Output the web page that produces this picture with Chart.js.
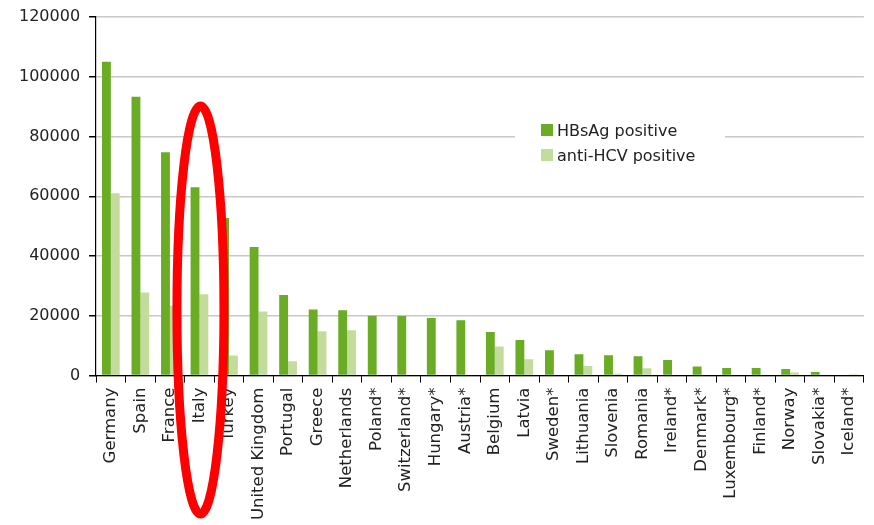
<!DOCTYPE html>
<html>
<head>
<meta charset="utf-8">
<script src="https://cdn.jsdelivr.net/npm/chart.js@4.4.1/dist/chart.umd.min.js"></script>
<style>
  html, body { margin: 0; padding: 0; background: #fff; }
  #wrap { width: 874px; height: 525px; }
</style>
</head>
<body>
<div id="wrap"><canvas id="chart-bars"></canvas></div>
<script>
var countries = ["Germany", "Spain", "France", "Italy", "Turkey", "United Kingdom", "Portugal",
  "Greece", "Netherlands", "Poland*", "Switzerland*", "Hungary*", "Austria*", "Belgium", "Latvia",
  "Sweden*", "Lithuania", "Slovenia", "Romania", "Ireland*", "Denmark*", "Luxembourg*", "Finland*",
  "Norway", "Slovakia*", "Iceland*"];
var hbsag = [105000, 93300, 74700, 63000, 52700, 43000, 27000, 22100, 21900, 20000, 19900, 19300,
  18500, 14600, 11900, 8450, 7100, 6800, 6450, 5230, 3000, 2560, 2550, 2230, 1230, 300];
var antiHcv = [61000, 27800, 23400, 27200, 6700, 21400, 4800, 14800, 15200, 0, 0, 0, 0, 9700, 5450,
  0, 3240, 600, 2450, 0, 0, 0, 0, 1000, 0, 400];
var yTicks = [0, 20000, 40000, 60000, 80000, 100000, 120000];
var legendLabels = ["HBsAg positive", "anti-HCV positive"];

var dark = "#6aac24";
var light = "#c3dc9b";
var font = "DejaVu Sans";

// legend box over the gridlines, plus the red highlight ring round Italy
var overlay = {
  id: "overlay",
  afterDraw: function (chart) {
    var c = chart.ctx;
    c.save();
    c.fillStyle = "#fff";
    c.fillRect(515, 116, 210, 52);
    var cols = [dark, light];
    c.font = "16px '" + font + "'";
    c.textBaseline = "alphabetic";
    for (var i = 0; i < legendLabels.length; i++) {
      var y = 124 + i * 25;
      c.fillStyle = cols[i];
      c.fillRect(541, y, 12, 12);
      c.fillStyle = "#222";
      c.fillText(legendLabels[i], 557, y + 12);
    }
    var x = chart.scales.x.getPixelForValue(3);
    c.strokeStyle = "#ff0000";
    c.lineWidth = 9;
    c.beginPath();
    c.ellipse(x + 1, 310, 23.5, 204, 0, 0, Math.PI * 2);
    c.stroke();
    c.restore();
  },
};

var ctx = document.getElementById("chart-bars").getContext("2d");
new Chart(ctx, {
  type: "bar",
  data: {
    labels: countries,
    datasets: [
      {
        label: legendLabels[0],
        data: hbsag,
        backgroundColor: dark,
        borderWidth: 0,
        barPercentage: 1.0,
        categoryPercentage: 0.6,
      },
      {
        label: legendLabels[1],
        data: antiHcv,
        backgroundColor: light,
        borderWidth: 0,
        barPercentage: 1.0,
        categoryPercentage: 0.6,
      },
    ],
  },
  options: {
    responsive: true,
    maintainAspectRatio: false,
    animation: false,
    layout: { padding: { left: 10, right: 0, top: 4, bottom: 0 } },
    plugins: {
      legend: { display: false },
      tooltip: { enabled: false },
    },
    scales: {
      y: {
        min: 0,
        max: 120000,
        afterBuildTicks: function (axis) {
          axis.ticks = yTicks.map(function (v) { return { value: v }; });
        },
        grid: {
          color: "#c8c8c8",
          lineWidth: 1.5,
          tickColor: "#000",
          tickLength: 7,
        },
        border: { color: "#000", width: 1.2 },
        ticks: {
          padding: 9,
          color: "#222",
          font: { size: 16, family: font, lineHeight: 1.0 },
          callback: function (v) { return String(v); },
        },
      },
      x: {
        grid: {
          display: true,
          drawOnChartArea: false,
          drawTicks: true,
          tickLength: 7,
          tickColor: "#000",
          offset: true,
        },
        border: { color: "#000", width: 1.2 },
        ticks: {
          minRotation: 90,
          maxRotation: 90,
          autoSkip: false,
          padding: 5,
          color: "#222",
          font: { size: 16.5, family: font },
        },
      },
    },
  },
  plugins: [overlay],
});
</script>
</body>
</html>
